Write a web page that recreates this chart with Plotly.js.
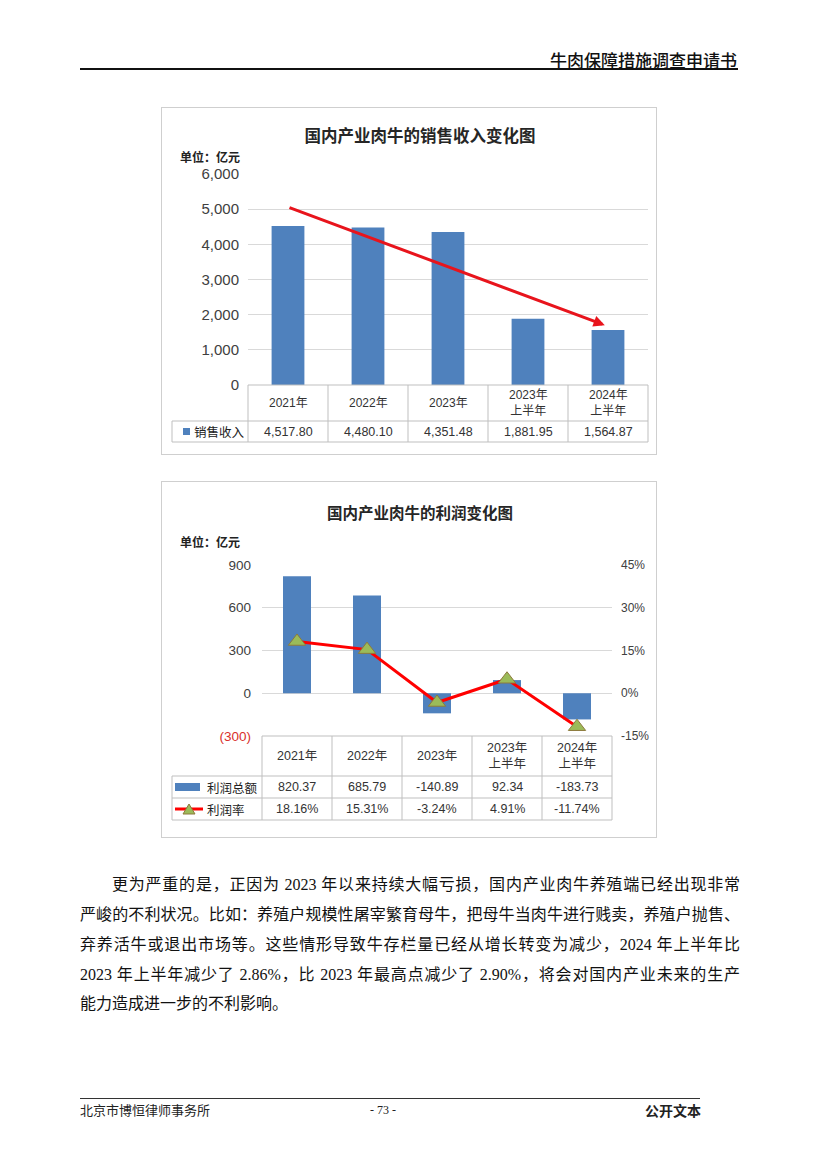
<!DOCTYPE html>
<html>
<head>
<meta charset="utf-8">
<script src="https://cdn.plot.ly/plotly-3.0.1.min.js"></script>
<style>
  html, body { margin: 0; padding: 0; background: #fff; }
  #page { position: relative; width: 827px; height: 1170px; overflow: hidden; background: #fff; }
  .hdr { position: absolute; right: 90px; top: 49px; font-family: "Noto Sans CJK SC", sans-serif; font-size: 17px; font-weight: 500; color: #111; line-height: 22px; }
  .hline { position: absolute; left: 80px; top: 68px; width: 658px; height: 1.5px; background: #111; }
  .chartbox { position: absolute; outline: 1px solid #cfcfcf; background: #fff; }
  .para { position: absolute; left: 80px; width: 660px; height: 30px; line-height: 30px; font-family: "Liberation Serif", "Noto Sans CJK SC", serif; font-size: 16px; color: #111; text-align: justify; text-align-last: justify; white-space: nowrap; }
  .para.last { text-align-last: left; }
  .fline { position: absolute; left: 80px; top: 1098px; width: 620px; height: 1px; background: #333; }
  .ftxt { position: absolute; top: 1101px; line-height: 18px; color: #222; }
</style>
</head>
<body>
<div id="page">
  <div class="hdr">牛肉保障措施调查申请书</div>
  <div class="hline"></div>
  <div id="chart1" class="chartbox" style="left:162px; top:108px; width:494px; height:346px;"></div>
  <div id="chart2" class="chartbox" style="left:162px; top:482px; width:494px; height:355px;"></div>
  <div id="paras"></div>
  <div class="fline"></div>
  <div class="ftxt" style="left:80px; font-family:'Noto Sans CJK SC',serif; font-size:13px;">北京市博恒律师事务所</div>
  <div class="ftxt" style="left:370px; font-family:'Liberation Serif',serif; font-size:12px;">- 73 -</div>
  <div class="ftxt" style="left:645px; font-family:'Noto Sans CJK SC',sans-serif; font-size:14px; font-weight:700;">公开文本</div>
</div>
<script>
// ---------------- DATA ----------------
const categories = ['2021年', '2022年', '2023年', '2023年上半年', '2024年上半年'];
const categoryLabels = ['2021年', '2022年', '2023年', '2023年<br>上半年', '2024年<br>上半年'];
const salesValues = [4517.80, 4480.10, 4351.48, 1881.95, 1564.87];
const salesTicks = [0, 1000, 2000, 3000, 4000, 5000, 6000];
const salesTrend = [5060, 1700];           // trend arrow start / end value (亿元)
const profitValues = [820.37, 685.79, -140.89, 92.34, -183.73];
const profitRate = [18.16, 15.31, -3.24, 4.91, -11.74];
const profitTicks = [-300, 0, 300, 600, 900];
const rateTicks = [-15, 0, 15, 30, 45];
const paragraphLines = [
  '更为严重的是，正因为 2023 年以来持续大幅亏损，国内产业肉牛养殖端已经出现非常',
  '严峻的不利状况。比如：养殖户规模性屠宰繁育母牛，把母牛当肉牛进行贱卖，养殖户抛售、',
  '弃养活牛或退出市场等。这些情形导致牛存栏量已经从增长转变为减少，2024 年上半年比',
  '2023 年上半年减少了 2.86%，比 2023 年最高点减少了 2.90%，将会对国内产业未来的生产',
  '能力造成进一步的不利影响。'
];

// ---------------- PARAGRAPH ----------------
const paraTops = [870, 900, 930, 960, 989];
const pc = document.getElementById('paras');
paragraphLines.forEach((t, i) => {
  const d = document.createElement('div');
  d.className = 'para' + (i === paragraphLines.length - 1 ? ' last' : '');
  d.style.top = paraTops[i] + 'px';
  if (i === 0) { d.style.left = '112px'; d.style.width = '628px'; }
  d.textContent = t;
  pc.appendChild(d);
});

// ---------------- COMMON ----------------
const BLUE = '#4f81bd';
const GRID = '#d9d9d9';
const TBL = '#bfbfbf';
const TXT = '#404040';
const CJK = '"Noto Sans CJK SC", sans-serif';
const NUM = '"Liberation Sans", "Noto Sans CJK SC", sans-serif';
const N = categories.length;

function hline(x0, x1, y) {
  return {type: 'line', xref: 'paper', yref: 'paper', x0: x0, x1: x1, y0: y, y1: y, line: {color: TBL, width: 1}};
}
function vline(x, y0, y1) {
  return {type: 'line', xref: 'paper', yref: 'paper', x0: x, x1: x, y0: y0, y1: y1, line: {color: TBL, width: 1}};
}
function cellText(cat, y, text, size, color) {
  return {xref: 'x', yref: 'paper', x: cat, y: y, text: text, showarrow: false,
          xanchor: 'center', yanchor: 'middle', font: {family: NUM, size: size, color: color || TXT}};
}

// ---------------- CHART 1 ----------------
(function () {
  const W = 494, H = 346, L = 86, R = 8, T = 66, B = 69;
  const pw = W - L - R, ph = H - T - B;
  const py = px => -(px) / ph;
  const pxX = px => (px - L) / pw;
  const row1 = py(36), row2 = py(57);
  const leftX = pxX(10);
  const shapes = [hline(0, 1, 0), hline(leftX, 1, row1), hline(leftX, 1, row2), vline(leftX, row1, row2)];
  for (let k = 0; k <= N; k++) shapes.push(vline(k / N, 0, row2));
  shapes.push({type: 'rect', xref: 'paper', yref: 'paper', x0: pxX(21), x1: pxX(28), y0: (row1 + row2) / 2 - 3.5 / ph, y1: (row1 + row2) / 2 + 3.5 / ph,
               fillcolor: BLUE, line: {width: 0}});
  const ann = [];
  categories.forEach((c, i) => {
    ann.push(cellText(c, row1 / 2, categoryLabels[i], 12, '#333'));
    ann.push(cellText(c, (row1 + row2) / 2, salesValues[i].toLocaleString('en-US', {minimumFractionDigits: 2, maximumFractionDigits: 2}), 12.5, '#333'));
  });
  ann.push({xref: 'paper', yref: 'paper', x: pxX(30), y: (row1 + row2) / 2, text: '销售收入', showarrow: false,
            xanchor: 'left', yanchor: 'middle', font: {family: CJK, size: 12.5, color: '#222'}});
  ann.push({xref: 'paper', yref: 'paper', x: pxX(16), y: 1 + (T - 49) / ph, text: '单位：亿元', showarrow: false,
            xanchor: 'left', yanchor: 'middle', font: {family: CJK, size: 12, color: '#222', weight: 700}});
  ann.push({xref: 'x', yref: 'y', axref: 'x', ayref: 'y', x: 3.96, y: salesTrend[1], ax: 0, ay: salesTrend[0],
            showarrow: true, arrowhead: 2, arrowsize: 0.75, arrowwidth: 3, arrowcolor: '#e8141c', text: ''});

  const data = [{type: 'bar', x: categories, y: salesValues, marker: {color: BLUE}, hoverinfo: 'none'}];
  const layout = {
    width: W, height: H, margin: {l: L, r: R, t: T, b: B}, paper_bgcolor: '#fff', plot_bgcolor: '#fff',
    showlegend: false, bargap: 0.59,
    title: {text: '<b>国内产业肉牛的销售收入变化图</b>', x: 258 / W, xanchor: 'center', y: 1 - 28 / H, yanchor: 'middle',
            font: {family: CJK, size: 16.5, color: '#262626'}},
    xaxis: {type: 'category', range: [-0.5, N - 0.5], showticklabels: false, showgrid: false, showline: false, zeroline: false, fixedrange: true},
    yaxis: {range: [0, 6000], tickvals: salesTicks, ticktext: salesTicks.map(v => v.toLocaleString('en-US')),
            showgrid: true, gridcolor: GRID, gridwidth: 1, zeroline: false, showline: false, ticks: '', ticklabelstandoff: 8,
            tickfont: {family: NUM, size: 15, color: TXT}, fixedrange: true},
    shapes: shapes, annotations: ann
  };
  Plotly.newPlot('chart1', data, layout, {staticPlot: true, displayModeBar: false});
})();

// ---------------- CHART 2 ----------------
(function () {
  const W = 494, H = 355, L = 100, R = 44, T = 83, B = 101;
  const pw = W - L - R, ph = H - T - B;
  const py = px => -(px) / ph;
  const pxX = px => (px - L) / pw;
  const row1 = py(40), row2 = py(62), row3 = py(84);
  const leftX = pxX(10);
  const shapes = [hline(0, 1, 0), hline(leftX, 1, row1), hline(leftX, 1, row2), hline(leftX, 1, row3), vline(leftX, row1, row3)];
  for (let k = 0; k <= N; k++) shapes.push(vline(k / N, 0, row3));
  const m2 = (row1 + row2) / 2, m3 = (row2 + row3) / 2;
  shapes.push({type: 'rect', xref: 'paper', yref: 'paper', x0: pxX(13), x1: pxX(38), y0: m2 - 4 / ph, y1: m2 + 4 / ph, fillcolor: BLUE, line: {width: 0}});
  shapes.push({type: 'line', xref: 'paper', yref: 'paper', x0: pxX(13), x1: pxX(41), y0: m3, y1: m3, line: {color: '#ff0000', width: 3}});
  const tx = pxX(27), th = 10 / ph, tw = 6 / pw;
  shapes.push({type: 'path', xref: 'paper', yref: 'paper',
               path: `M ${tx - tw} ${m3 - th / 2} L ${tx + tw} ${m3 - th / 2} L ${tx} ${m3 + th / 2} Z`,
               fillcolor: '#9bbb59', line: {color: '#8d7a3c', width: 1}});
  const ann = [];
  categories.forEach((c, i) => {
    ann.push(cellText(c, row1 / 2, categoryLabels[i], 12.5, '#333'));
    ann.push(cellText(c, m2, profitValues[i].toFixed(2), 12.5, '#333'));
    ann.push(cellText(c, m3, profitRate[i].toFixed(2) + '%', 12.5, '#333'));
  });
  ann.push({xref: 'paper', yref: 'paper', x: pxX(43), y: m2, text: '利润总额', showarrow: false, xanchor: 'left', yanchor: 'middle',
            font: {family: CJK, size: 12.5, color: '#222'}});
  ann.push({xref: 'paper', yref: 'paper', x: pxX(43), y: m3, text: '利润率', showarrow: false, xanchor: 'left', yanchor: 'middle',
            font: {family: CJK, size: 12.5, color: '#222'}});
  ann.push({xref: 'paper', yref: 'paper', x: pxX(16), y: 1 + (T - 59) / ph, text: '单位：亿元', showarrow: false,
            xanchor: 'left', yanchor: 'middle', font: {family: CJK, size: 12, color: '#222', weight: 700}});

  const data = [
    {type: 'bar', x: categories, y: profitValues, marker: {color: BLUE}, hoverinfo: 'none'},
    {type: 'scatter', mode: 'lines+markers', x: categories, y: profitRate, yaxis: 'y2', hoverinfo: 'none',
     line: {color: '#ff0000', width: 3},
     marker: {symbol: 'triangle-up', size: 15, color: '#9bbb59', line: {color: '#8d7a3c', width: 1}}}
  ];
  const layout = {
    width: W, height: H, margin: {l: L, r: R, t: T, b: B}, paper_bgcolor: '#fff', plot_bgcolor: '#fff',
    showlegend: false, bargap: 0.6,
    title: {text: '<b>国内产业肉牛的利润变化图</b>', x: 258 / W, xanchor: 'center', y: 1 - 32 / H, yanchor: 'middle',
            font: {family: CJK, size: 15.5, color: '#262626'}},
    xaxis: {type: 'category', range: [-0.5, N - 0.5], showticklabels: false, showgrid: false, showline: false, zeroline: false, fixedrange: true},
    yaxis: {range: [-300, 900], tickvals: profitTicks,
            ticktext: profitTicks.map(v => v < 0 ? '<span style="color:#d9302c">(' + Math.abs(v) + ')</span>' : String(v)),
            showgrid: true, gridcolor: GRID, zeroline: false, showline: false, ticks: '', ticklabelstandoff: 10,
            tickfont: {family: NUM, size: 13.5, color: TXT}, fixedrange: true},
    yaxis2: {overlaying: 'y', side: 'right', range: [-15, 45], tickvals: rateTicks, ticktext: rateTicks.map(v => v + '%'),
             showgrid: false, zeroline: false, showline: false, ticks: '', ticklabelstandoff: 8,
             tickfont: {family: NUM, size: 12, color: TXT}, fixedrange: true},
    shapes: shapes, annotations: ann
  };
  Plotly.newPlot('chart2', data, layout, {staticPlot: true, displayModeBar: false});
})();
</script>
</body>
</html>
